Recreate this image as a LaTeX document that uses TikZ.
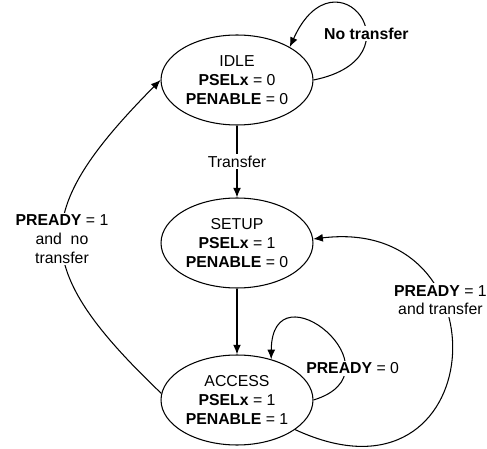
\documentclass[tikz,border=0pt]{standalone}
\usepackage{fontspec}
\setmainfont{Liberation Sans}
\usepackage{tikz}
\usetikzlibrary{arrows.meta,positioning,shapes}
\tikzset{fsmstate/.style={
  % The shape:
  ellipse,
  % The size:
  minimum width=3.04cm,
  minimum height=1.8cm,
  inner sep=0pt,
  % The border:
  draw=black,
  line width=0.6pt,
  % Font:
  align=center,
  font=\fontsize{9}{10.8}\selectfont,
  }
}
\tikzset{condlabel/.style={
  % The filling hides the line below:
  fill=white,
  inner sep=1pt,
  align=center,
  font=\fontsize{9}{10.8}\selectfont,
  }
}

\begin{document}
\begin{tikzpicture}[x=0.02cm,y=-0.02cm,
    >={Latex[length=5.5pt,width=4.5pt]},
    trans/.style={->,line width=0.6pt}]
  \useasboundingbox (0,0) rectangle (487,449);
  % The three states:
  \node (idle)   [fsmstate] at (237,80)  {IDLE\\\textbf{PSELx} = 0\\\textbf{PENABLE} = 0};
  \node (setup)  [fsmstate] at (237,243) {SETUP\\\textbf{PSELx} = 1\\\textbf{PENABLE} = 0};
  \node (access) [fsmstate] at (237,400) {ACCESS\\\textbf{PSELx} = 1\\\textbf{PENABLE} = 1};

  % The transitions:
  \draw[trans] (idle) -- node[condlabel] {Transfer} (setup);
  \draw[trans,line width=0.8pt] (setup) -- (access);
  \draw[trans] (idle.east) .. controls (423,58) and (336,-55) ..
    node[condlabel,pos=0.37] {\textbf{No transfer}} (idle.32);
  \draw[trans] (access.east) .. controls (405,372) and (272,263) ..
    node[condlabel,pos=0.25,xshift=4pt] {\textbf{PREADY} = 0} (access.50);
  \draw[trans] (access.-27) .. controls (490,520) and (510,215) ..
    node[condlabel,pos=0.66] {\textbf{PREADY} = 1\\and transfer} (setup.3);
  \draw[trans] (access.175) .. controls (29,267) and (29,213) ..
    node[condlabel,midway] {\textbf{PREADY} = 1\\and\ \ no\\transfer} (idle.180);
\end{tikzpicture}
\end{document}
